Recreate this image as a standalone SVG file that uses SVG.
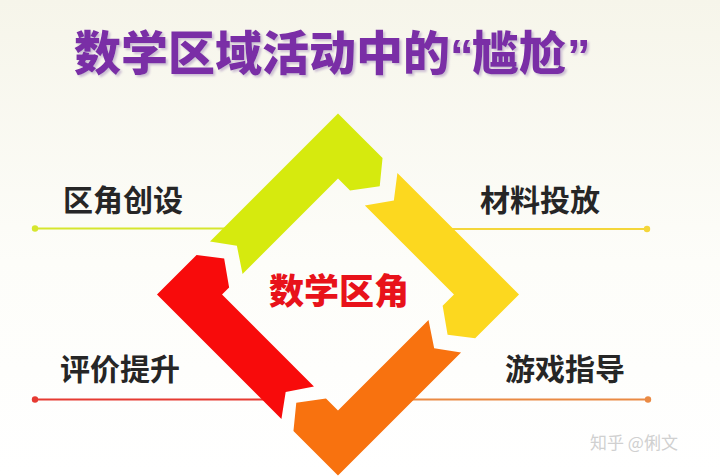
<svg xmlns="http://www.w3.org/2000/svg" width="720" height="476" viewBox="0 0 720 476">
<defs>
<linearGradient id="bg" x1="0" y1="0" x2="0" y2="1">
<stop offset="0" stop-color="#f6f5ea"/>
<stop offset="0.55" stop-color="#fdfdf9"/>
<stop offset="1" stop-color="#ffffff"/>
</linearGradient>
<filter id="sh" x="-5%" y="-20%" width="110%" height="140%">
<feDropShadow dx="2" dy="2" stdDeviation="0.8" flood-color="#b9a6c8" flood-opacity="0.7"/>
</filter>
<style>
.title{font-family:"Noto Sans CJK SC","Noto Sans",sans-serif;font-weight:900;font-size:47px;fill:#7a2fa6}
.q{font-family:"Liberation Sans","Noto Sans CJK SC",sans-serif;font-weight:700;font-size:47px;fill:#7a2fa6}
.lbl{font-family:"Noto Sans CJK SC","Noto Sans",sans-serif;font-weight:700;font-size:30px;fill:#262626}
.ctr{font-family:"Noto Sans CJK SC","Noto Sans",sans-serif;font-weight:900;font-size:35px;fill:#e8121a;text-anchor:middle}
.wm{font-family:"Noto Sans CJK SC","Noto Sans",sans-serif;font-size:17px;fill:#d0d0d0}
.ln{stroke-width:2.2;fill:none}
</style>
</defs>
<rect width="720" height="476" fill="url(#bg)"/>

<g id="title" filter="url(#sh)">
<text class="title" x="74" y="70">数学区域活动中的</text>
<text class="q" x="450" y="72">“</text>
<text class="title" x="472" y="70">尴尬</text>
<text class="q" x="567" y="72">”</text>
</g>

<g id="connectors">
<line class="ln" x1="35" y1="228.5" x2="235" y2="228.5" stroke="#d6e62e"/>
<circle cx="35" cy="228.5" r="3.2" fill="#d6e62e"/>
<line class="ln" x1="440" y1="229" x2="647" y2="229" stroke="#f4d63a"/>
<circle cx="647" cy="229" r="3.2" fill="#f4d63a"/>
<line class="ln" x1="35" y1="399.5" x2="270" y2="399.5" stroke="#e63a32"/>
<circle cx="35" cy="399.5" r="3.2" fill="#e63a32"/>
<line class="ln" x1="405" y1="399.5" x2="648" y2="399.5" stroke="#ea8a44"/>
<circle cx="648" cy="399.5" r="3.2" fill="#ea8a44"/>
</g>

<g transform="translate(338,294.5) rotate(45)">
<g id="seg-green"><polygon fill="#d6ea0e" points="-128,53 -128,-128 -65,-128 -47,-106 -65,-82 -82,-82 -82,53 -106,37"/></g>
<g id="seg-yellow"><polygon fill="#fcd81f" points="-44,-128 128,-128 128,-66 106,-49 82,-66 82,-82 -44,-82 -27,-106"/></g>
<g id="seg-orange"><polygon fill="#f8720f" points="128,-46 128,128 65,128 47,106 65,82 82,82 82,-46 106,-30"/></g>
<g id="seg-red"><polygon fill="#f80b0b" points="48,128 -128,128 -128,72 -106,55 -82,72 -82,82 48,82 32,106"/></g>
</g>

<g id="center"><text class="ctr" x="339" y="304">数学区角</text></g>
<g id="label-1"><text class="lbl" x="63" y="211">区角创设</text></g>
<g id="label-2"><text class="lbl" x="480" y="211">材料投放</text></g>
<g id="label-3"><text class="lbl" x="60" y="380">评价提升</text></g>
<g id="label-4"><text class="lbl" x="505" y="380">游戏指导</text></g>
<g id="watermark"><text class="wm" x="590" y="449">知乎 @俐文</text></g>
</svg>
